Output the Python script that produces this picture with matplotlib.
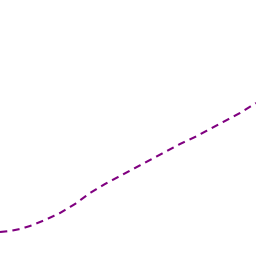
import matplotlib
matplotlib.use("Agg")
import matplotlib.pyplot as plt

# values
x = [0, 10, 20, 30, 45, 60, 75, 90, 105, 120, 135, 150, 165, 180, 195, 210, 225, 240, 256]
y = [24, 25, 27, 30, 36, 43, 52, 63, 72, 80, 88, 96, 104, 112, 119, 127, 135, 143, 153]

fig = plt.figure(figsize=(2.56, 2.56), dpi=100)
ax = fig.add_axes([0, 0, 1, 1])
ax.plot(x, y, color="#800080", linewidth=1.5, linestyle=(0, (3.5, 2.5)))
ax.set_xlim(0, 256)
ax.set_ylim(0, 256)
ax.axis("off")

fig.savefig("out.png", dpi=100)
